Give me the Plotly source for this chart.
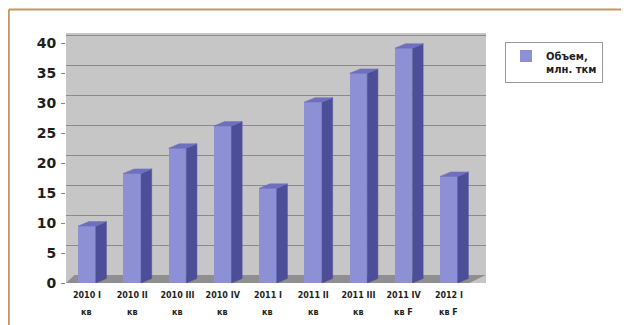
import plotly.graph_objects as go

categories = ["2010 I", "2010 II", "2010 III", "2010 IV", "2011 I",
              "2011 II", "2011 III", "2011 IV", "2012 I"]
sublabels = ["кв", "кв", "кв", "кв", "кв", "кв", "кв", "кв F", "кв F"]
values = [9.5, 18.3, 22.5, 26.2, 15.8, 30.2, 35.0, 39.2, 17.8]
yticks = [0, 5, 10, 15, 20, 25, 30, 35, 40]
series_name = "Объем,<br>млн. ткм"

OFF = 8  # page body margin
W, H = 629 - OFF, 325 - OFF
ML, MT = 66 - OFF, 33 - OFF
PW = 486 - 66
PH = 283 - 33
MR = W - ML - PW
MB = H - MT - PH

xs = list(range(len(categories)))
xmin, xmax = -0.464, 8.82
ymax = 41.74
px_per_y = PH / ymax
back_off = 8 / px_per_y          # back wall offset in y units
bw = 0.39                         # bar front width (category units)
dx = 0.235                        # depth offset in x
dy = 0.75                         # depth offset in y

front = "#8e90d6"
side = "#4d4e98"
top = "#6e70bd"
txt = "#1e1e1e"

fig = go.Figure()

# gridline axis (back wall)
fig.add_trace(go.Scatter(x=[None], y=[None], yaxis="y2", showlegend=False, hoverinfo="skip"))

fig.add_trace(go.Bar(x=xs, y=values, width=bw, name=series_name,
                     marker=dict(color=front, line=dict(width=0)), showlegend=True))

sx, sy, tx, ty = [], [], [], []
for x, v in zip(xs, values):
    r = x + bw / 2
    l = x - bw / 2
    sx += [r, r, r + dx, r + dx, r, None]
    sy += [0, v, v + dy, dy, 0, None]
    tx += [l, r, r + dx, l + dx, l, None]
    ty += [v, v, v + dy, v + dy, v, None]
fig.add_trace(go.Scatter(x=sx, y=sy, mode="lines", fill="toself", fillcolor=side,
                         line=dict(width=0.5, color=side), showlegend=False, hoverinfo="skip"))
fig.add_trace(go.Scatter(x=tx, y=ty, mode="lines", fill="toself", fillcolor=top,
                         line=dict(width=0.5, color=top), showlegend=False, hoverinfo="skip"))

# second line of category labels
for x, s in zip(xs, sublabels):
    fig.add_annotation(x=x, y=0, xref="x", yref="paper", text=s, showarrow=False,
                       yshift=-29, font=dict(family="DejaVu Sans", size=8, color=txt, weight="bold"),
                       xanchor="center", yanchor="middle")

shapes = []
# floor band
shapes.append(dict(type="path", xref="paper", yref="paper",
                   path="M 0,0 L 0.96,0 L 1,%f L 0.02,%f Z" % (8 / PH, 8 / PH),
                   fillcolor="#8f8f8f", line=dict(width=0), layer="below"))
# frame lines
xl = (0.8 - ML) / PW
yt = (MT + PH - 1.5) / PH
ybot = -MB / PH
shapes.append(dict(type="line", xref="paper", yref="paper", x0=xl, x1=(W - ML) / PW,
                   y0=yt, y1=yt, line=dict(color="#c89660", width=2)))
shapes.append(dict(type="line", xref="paper", yref="paper", x0=xl, x1=xl,
                   y0=yt, y1=ybot, line=dict(color="#c89660", width=2)))
fig.update_layout(shapes=shapes)

fig.update_layout(
    width=W, height=H,
    margin=dict(l=ML, r=MR, t=MT, b=MB, autoexpand=False),
    paper_bgcolor="white",
    plot_bgcolor="#c6c6c6",
    bargap=0,
    xaxis=dict(range=[xmin, xmax], tickmode="array", tickvals=xs, ticktext=categories,
               showgrid=False, zeroline=False, showline=False, ticks="", automargin=False,
               tickfont=dict(family="DejaVu Sans", size=8, color=txt, weight="bold"),
               ticklabelstandoff=6),
    yaxis=dict(range=[0, ymax], tickvals=yticks, showgrid=False, zeroline=False, automargin=False,
               showline=False, ticks="outside", ticklen=4, tickcolor="#888",
               tickfont=dict(family="DejaVu Sans", size=14, color=txt, weight="bold"),
               ticklabelstandoff=2),
    yaxis2=dict(range=[-back_off, ymax - back_off], overlaying="y", side="right", automargin=False,
                tickvals=yticks[1:], showticklabels=False, showgrid=True,
                gridcolor="#8a8a8a", gridwidth=1, zeroline=False, showline=False),
    legend=dict(x=(505 - 66) / PW, y=(283 - 42) / PH, xanchor="left", yanchor="top",
                bordercolor="#9a9a9a", borderwidth=1, bgcolor="white", entrywidth=78,
                font=dict(family="DejaVu Sans", size=10, color=txt, weight="bold"), valign="top"),
    font=dict(family="DejaVu Sans"),
)

fig.write_html("out.html")
